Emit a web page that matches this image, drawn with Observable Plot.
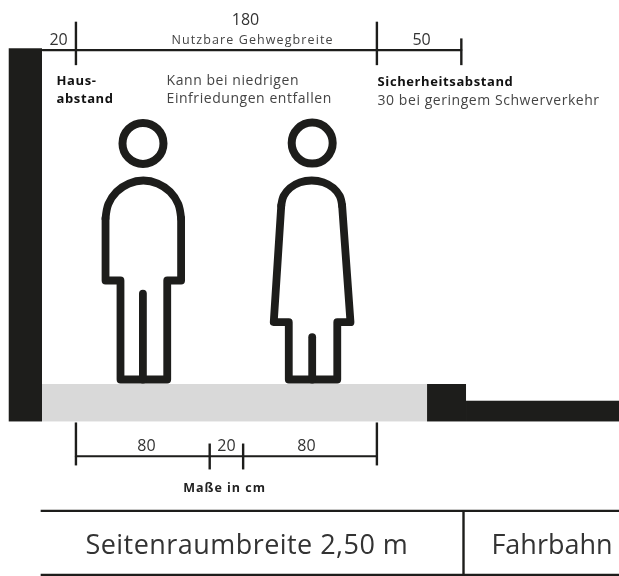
<!DOCTYPE html>
<html>
<head>
<meta charset="utf-8">
<script src="https://cdn.jsdelivr.net/npm/d3@7"></script>
<script src="https://cdn.jsdelivr.net/npm/@observablehq/plot@0.6"></script>
<style>
html,body{margin:0;padding:0;background:#fff}
svg{display:block;filter:blur(0.75px)}
.sp-notes text{letter-spacing:.55px}
.sp-width text{letter-spacing:1.1px}
.sp-bold text{letter-spacing:.6px}
.sp-unit text{letter-spacing:1px}
.sp-side text{letter-spacing:.45px}
</style>
</head>
<body>
<div id="chart"></div>
<script>
// All values in centimetres: x from the house wall, y above the pavement surface.
const blocks = [
  {name:"Haus", x1:-19.9, x2:0, y1:-22.4, y2:200.8, fill:"#1d1d1b"},
  {name:"Gehweg", x1:0, x2:230.3, y1:-22.4, y2:0, fill:"#d9d9d9"},
  {name:"Bordstein", x1:230.3, x2:253.6, y1:-22.4, y2:0, fill:"#1d1d1b"},
  {name:"Fahrbahn", x1:253.6, x2:345.2, y1:-22.4, y2:-10, fill:"#1d1d1b"}
];
const dimTop = [[0,200],[250.5,200]];
const dimTopTicks = [[20,191],[200,191],[250.5,191]];
const dimTopTickEnds = [[20,217],[200,217],[250.5,207]];
const dimBottom = [[20,-42.9],[200,-42.9]];
const dimBottomTicks = [[20,-22.7,-48.4],[100,-35.3,-50.8],[120,-35.3,-50.8],[200,-22.7,-48.4]];
const tableRows = [-75.6,-113.8];
const tableColumn = [251.8,-75.6,-115];
const heads = [[60.1,144.2],[161.3,144.4]];
const maleArc = [[37.7,99.3],[39.4,107.95],[44.3,115.3],[51.65,120.2],[60.3,122],[68.95,120.2],[76.3,115.3],[81.2,107.95],[82.9,99.3]];
const maleBody = [[37.7,99.3],[37.7,62.2],[46.65,62.2],[46.65,3],[74.6,3],[74.6,62.2],[82.9,62.2],[82.9,99.3]];
const maleLeg = [[60.05,54.4],[60.05,3]];
const femaleArc = [[142.8,107],[144.2,112.7],[148.1,117.6],[154,120.9],[161,122],[168,120.9],[173.9,117.6],[177.8,112.7],[179.2,107]];
const femaleBody = [[142.8,107],[138.3,37.3],[147.3,37.3],[147.3,3],[176.3,3],[176.3,37.3],[184.2,37.3],[179.2,107]];
const femaleLeg = [[161.3,28.3],[161.3,3]];
const numbers = [["180",121.4,215.3],["20",9.6,202.8],["50",226.7,202.8],["80",62.2,-39.5],["20",110,-39.5],["80",157.9,-39.5]];
const boldNotes = [["Haus-",8.4,179.4],["abstand",8.4,168.1],["Sicherheitsabstand",200.4,178.8]];
const notes = [["Kann bei niedrigen",74.2,179.4],["Einfriedungen entfallen",74.2,168.1],["30 bei geringem Schwerverkehr",200.4,166.9]];
const widthLabel = [["Nutzbare Gehwegbreite",125.6,203.4]];
const unitLabel = [["Maße in cm",108.9,-64]];
const sideLabel = [["Seitenraumbreite 2,50 m",25.7,-101.1]];
const roadLabel = [["Fahrbahn",268.5,-101.1]];

const ink = "#1d1d1b";
const textMark = (rows, o) => Plot.text(rows, {x:d=>d[1], y:d=>d[2], text:d=>d[0], fontFamily:"Open Sans", ...o});
const stroke = (pts, w=7.8) => Plot.line(pts, {x:d=>d[0], y:d=>d[1], stroke:ink, strokeWidth:w, strokeLinejoin:"round", strokeLinecap:"round"});
const arc = (pts) => Plot.line(pts, {x:d=>d[0], y:d=>d[1], stroke:ink, strokeWidth:7.8, curve:"catmull-rom", strokeLinecap:"round"});

const chart = Plot.plot({
  width:619, height:576,
  margin:0, marginTop:0, marginRight:0, marginBottom:0, marginLeft:0,
  x:{domain:[-25.12,345.1], range:[0,619], axis:null},
  y:{domain:[-114.83,229.67], range:[576,0], axis:null},
  style:{background:"#fff"},
  marks:[
    Plot.rect(blocks,{x1:"x1",x2:"x2",y1:"y1",y2:"y2",fill:"fill"}),
    Plot.line(dimTop,{x:d=>d[0],y:d=>d[1],stroke:ink,strokeWidth:2.2}),
    Plot.link(dimTopTicks,{x1:d=>d[0],y1:d=>d[1],x2:(d,i)=>dimTopTickEnds[i][0],y2:(d,i)=>dimTopTickEnds[i][1],stroke:ink,strokeWidth:2.4}),
    Plot.line(dimBottom,{x:d=>d[0],y:d=>d[1],stroke:ink,strokeWidth:2.2}),
    Plot.link(dimBottomTicks,{x1:d=>d[0],x2:d=>d[0],y1:d=>d[1],y2:d=>d[2],stroke:ink,strokeWidth:2.4}),
    Plot.ruleY(tableRows,{x1:-0.8,x2:345.1,stroke:ink,strokeWidth:2.2}),
    Plot.link([tableColumn],{x1:d=>d[0],x2:d=>d[0],y1:d=>d[1],y2:d=>d[2],stroke:ink,strokeWidth:2.4}),
    Plot.dot(heads,{x:d=>d[0],y:d=>d[1],r:20.5,stroke:ink,strokeWidth:8,fill:"none"}),
    arc(maleArc), stroke(maleBody), stroke(maleLeg),
    arc(femaleArc), stroke(femaleBody), stroke(femaleLeg),
    textMark(numbers,{fontSize:16,fill:"#333",textAnchor:"middle",lineAnchor:"bottom"}),
    textMark(widthLabel,{fontSize:12.5,fill:"#444",textAnchor:"middle",lineAnchor:"bottom",className:"sp-width"}),
    textMark(notes,{fontSize:14,fill:"#444",textAnchor:"start",lineAnchor:"bottom",className:"sp-notes"}),
    textMark(boldNotes,{fontSize:13,fontWeight:"bold",fill:"#111",textAnchor:"start",lineAnchor:"bottom",className:"sp-bold"}),
    textMark(unitLabel,{fontSize:12.5,fontWeight:"bold",fill:"#222",textAnchor:"middle",lineAnchor:"bottom",className:"sp-unit"}),
    textMark(sideLabel,{fontSize:27,fill:"#333",textAnchor:"start",lineAnchor:"bottom",className:"sp-side"}),
    textMark(roadLabel,{fontSize:27,fill:"#333",textAnchor:"start",lineAnchor:"bottom"})
  ]
});
document.getElementById("chart").appendChild(chart);
</script>
</body>
</html>
